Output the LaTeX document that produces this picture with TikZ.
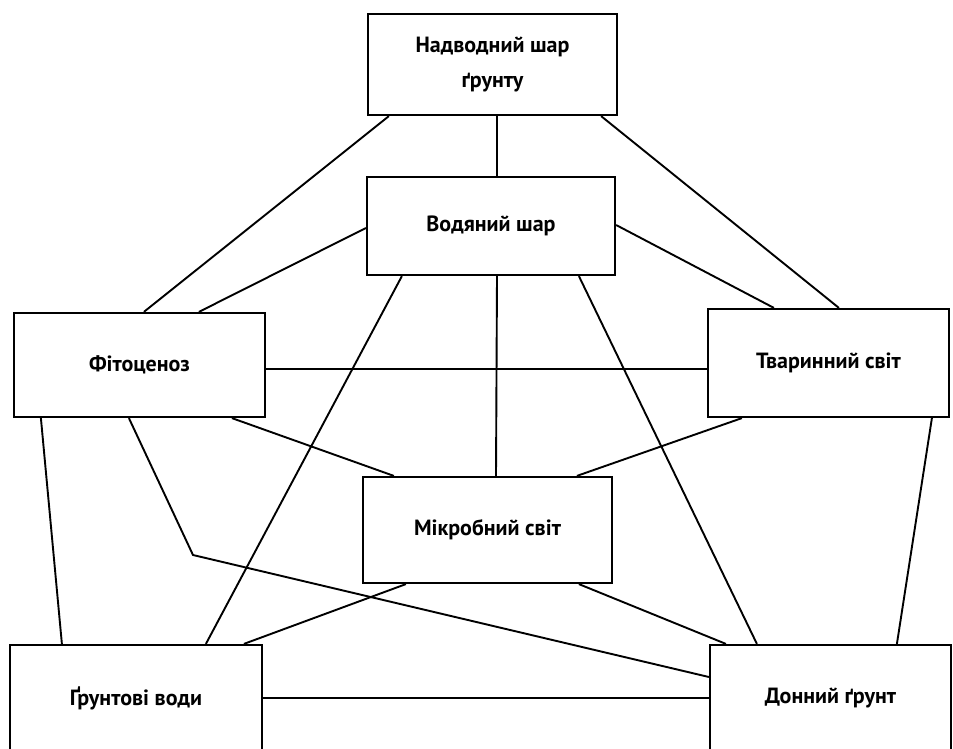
\documentclass[tikz,border=0pt]{standalone}
\usepackage{fontspec}
\setmainfont{PT Sans}
\usetikzlibrary{calc}
\begin{document}
\begin{tikzpicture}[x=1pt,y=-1pt,
  box/.style={draw,line width=2.2pt,inner sep=0pt,align=center,
    font=\bfseries\fontsize{22}{35}\selectfont},
  link/.style={line width=1.9pt}]
\clip (0,0) rectangle (953,749);
\fill[white] (0,0) rectangle (953,749);
% boxes
\node[box,minimum width=249,minimum height=101] (top)   at (492.5,64.5) {Надводний шар\\ґрунту};
\node[box,minimum width=248,minimum height=98]  (water) at (491,226)    {Водяний шар};
\node[box,minimum width=251,minimum height=104] (fito)  at (139.5,365)  {Фітоценоз};
\node[box,minimum width=241,minimum height=108] (tvar)  at (828.5,363)  {Тваринний світ};
\node[box,minimum width=249,minimum height=106] (mikro) at (487.5,530)  {Мікробний світ};
\node[box,minimum width=252,minimum height=106] (grunt) at (136,698)    {Ґрунтові води};
\node[box,minimum width=241,minimum height=106] (donn)  at (830.5,698)  {Донний ґрунт};
\coordinate (bend) at (193,555);
% connectors
\draw[link] ($(top.south)+(4.5,0)$) -- ($(water.north)+(6,0)$);
\draw[link] ($(top.south west)+(22,0)$) -- ($(fito.north west)+(131,0)$);
\draw[link] ($(top.south east)+(-17,0)$) -- ($(tvar.north west)+(132,0)$);
\draw[link] ($(water.west)+(0,2)$) -- ($(fito.north west)+(186,0)$);
\draw[link] ($(water.east)+(0,-1)$) -- ($(tvar.north west)+(67,0)$);
\draw[link] ($(water.south)+(6,0)$) -- ($(mikro.north)+(8.5,0)$);
\draw[link] ($(water.south west)+(36,0)$) -- ($(grunt.north west)+(197,0)$);
\draw[link] ($(water.south west)+(213,0)$) -- ($(donn.north west)+(48,0)$);
\draw[link] ($(fito.east)+(0,4)$) -- ($(tvar.west)+(0,6)$);
\draw[link] ($(fito.south west)+(219,0)$) -- ($(mikro.north west)+(32,0)$);
\draw[link] ($(fito.south west)+(28,0)$) -- ($(grunt.north west)+(53,0)$);
\draw[link] ($(fito.south west)+(116,0)$) -- (bend) -- ($(donn.west)+(0,-21)$);
\draw[link] ($(tvar.south west)+(35,0)$) -- ($(mikro.north west)+(215,0)$);
\draw[link] ($(tvar.south west)+(225,0)$) -- ($(donn.north west)+(188,0)$);
\draw[link] ($(mikro.south west)+(44,0)$) -- ($(grunt.north west)+(235,0)$);
\draw[link] ($(mikro.south west)+(217,0)$) -- ($(donn.north west)+(17,0)$);
\draw[link] (grunt.east) -- (grunt.east -| donn.west);
\end{tikzpicture}
\end{document}
